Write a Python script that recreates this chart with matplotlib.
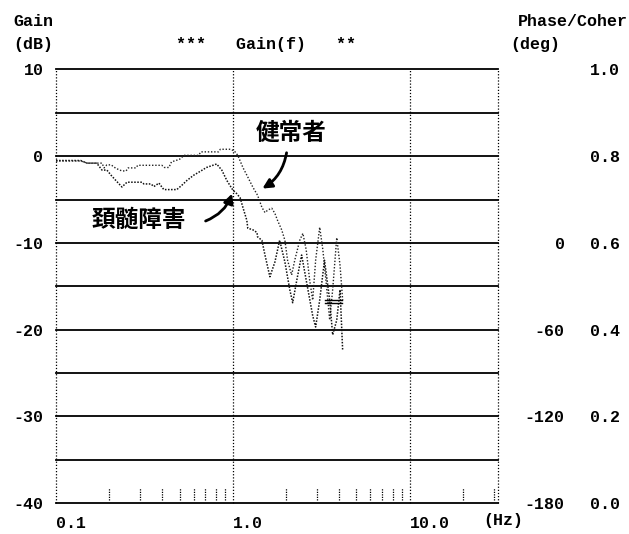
import matplotlib.pyplot as plt

# gain curves (frequency in Hz, gain in dB)
healthy_f = [0.100, 0.138, 0.150, 0.182, 0.187, 0.194, 0.205, 0.218, 0.236, 0.249,
             0.256, 0.283, 0.290, 0.397, 0.410, 0.435, 0.450, 0.476, 0.500, 0.530,
             0.640, 0.660, 0.830, 0.850, 0.970, 1.02, 1.067, 1.14, 1.215, 1.30,
             1.38, 1.46, 1.52, 1.58, 1.66, 1.73, 1.79, 1.89, 1.97, 2.04,
             2.15, 2.24, 2.39, 2.49, 2.60, 2.72, 2.83, 2.94, 3.10, 3.23,
             3.38, 3.53, 3.67, 3.87, 4.04, 4.18]
healthy_g = [-0.55, -0.55, -0.8, -0.8, -1.35, -1.0, -1.0, -1.4, -1.7, -1.7,
             -1.35, -1.35, -1.05, -1.05, -1.3, -1.3, -0.65, -0.5, -0.35, 0.1,
             0.1, 0.5, 0.5, 0.8, 0.8, 0.6, 0.1, -1.3, -2.4, -3.6,
             -4.5, -5.9, -6.5, -6.2, -6.0, -6.6, -7.4, -8.5, -9.7, -12.0,
             -13.7, -12.0, -9.7, -8.9, -10.8, -14.3, -16.6, -12.0, -8.2, -10.8,
             -14.8, -18.9, -15.4, -9.4, -12.6, -16.6]

patient_f = [0.100, 0.138, 0.150, 0.170, 0.182, 0.194, 0.205, 0.218, 0.236, 0.252,
             0.306, 0.314, 0.344, 0.358, 0.382, 0.407, 0.482, 0.515, 0.550, 0.600,
             0.660, 0.710, 0.810, 0.866, 0.925, 1.00, 1.05, 1.10, 1.14, 1.20,
             1.215, 1.30, 1.37, 1.38, 1.46, 1.52, 1.62, 1.73, 1.84, 1.97,
             2.10, 2.18, 2.30, 2.45, 2.60, 2.83, 2.94, 3.10, 3.30, 3.53,
             3.67, 3.87, 4.04, 4.18]
patient_g = [-0.5, -0.5, -0.8, -0.8, -1.6, -1.6, -2.2, -2.8, -3.55, -3.0,
             -3.0, -3.2, -3.2, -3.5, -3.1, -3.85, -3.85, -3.35, -2.8, -2.2,
             -1.7, -1.3, -0.9, -1.6, -2.8, -3.9, -4.3, -4.8, -5.9, -7.4,
             -8.3, -8.5, -8.8, -9.3, -9.7, -11.4, -13.9, -12.2, -9.7, -12.2,
             -15.4, -16.9, -14.3, -11.4, -14.3, -18.4, -19.7, -16.6, -12.0, -16.6,
             -20.6, -18.9, -15.4, -22.4]

flat_f = [3.30, 4.15]
flat_g1 = [-16.6, -16.6]
flat_g2 = [-16.95, -16.95]

gain_ticks = [10, 0, -10, -20, -30, -40]
gain_grid = [10, 5, 0, -5, -10, -15, -20, -25, -30, -35, -40]
phase_ticks = [0, -60, -120, -180]
coher_ticks = [0.0, 0.2, 0.4, 0.6, 0.8, 1.0]
freq_labels = ['0.1', '1.0', '10.0']
minor_f = [0.2, 0.3, 0.4, 0.5, 0.6, 0.7, 0.8, 0.9,
           2, 3, 4, 5, 6, 7, 8, 9, 20, 30]

W, H = 629, 534
mono = dict(family='Liberation Mono', weight='bold', fontsize=12)
jp = dict(family=['Noto Sans CJK JP', 'DejaVu Sans'], weight='bold', fontsize=17)


def fp(x, y):
    # figure fraction from pixel position (top-left origin)
    return x / W, 1 - y / H


fig = plt.figure(figsize=(W / 100, H / 100), dpi=100)
left, right, top, bottom = 56, 498, 69.5, 503
ax = fig.add_axes([left / W, 1 - bottom / H, (right - left) / W, (bottom - top) / H])

xmin, xmax = 0.1, 31.6
ax.set_xscale('log')
ax.set_xlim(xmin, xmax)
ax.set_ylim(-40, 10)
for s in ax.spines.values():
    s.set_visible(False)

for g in gain_grid:
    ax.axhline(g, color='black', lw=1.3, clip_on=False)
for x in [xmin, 1, 10, xmax]:
    ax.axvline(x, color='black', lw=0.9, ls=(0, (1, 1.5)), clip_on=False)
ax.vlines(minor_f, -39.7, -38.3, color='black', lw=0.9, ls=(0, (1, 1)))

ax.plot(healthy_f, healthy_g, color='#222222', lw=1.0, ls=(0, (1, 1.3)))
ax.plot(patient_f, patient_g, color='#111111', lw=1.1, ls=(0, (1, 1)))
ax.plot(flat_f, flat_g1, color='black', lw=1.0)
ax.plot(flat_f, flat_g2, color='black', lw=1.0)

ax.set_yticks(gain_ticks)
ax.set_yticklabels([str(v) for v in gain_ticks], **mono)
ax.tick_params(axis='y', length=0, pad=9)
ax.set_xticks([0.1, 1, 10])
ax.set_xticklabels(freq_labels, ha='left', **mono)
ax.xaxis.set_minor_locator(plt.NullLocator())
ax.tick_params(axis='x', length=0, pad=9)

# coherence axis: 0..1 over the gain range
ax2 = ax.twinx()
ax2.set_ylim(0, 1)
ax2.set_yticks(coher_ticks)
ax2.set_yticklabels(['%.1f' % v for v in coher_ticks], **mono)
ax2.tick_params(axis='y', length=0, pad=66)
# phase axis: 60 deg per 10 dB
ax3 = ax.twinx()
ax3.set_ylim(-180, 120)
ax3.set_yticks(phase_ticks)
ax3.set_yticklabels([str(v) for v in phase_ticks], ha='right', **mono)
ax3.tick_params(axis='y', length=0, pad=48)
for a in (ax2, ax3):
    for s in a.spines.values():
        s.set_visible(False)

fig.text(*fp(13, 22), 'Gain', va='center', **mono)
fig.text(*fp(13, 44), '(dB)', va='center', **mono)
fig.text(*fp(176, 44), '***   Gain(f)   **', va='center', **mono)
fig.text(*fp(628, 22), 'Phase/Coher', va='center', ha='right', **mono)
fig.text(*fp(510, 44), '(deg)', va='center', **mono)
fig.text(*fp(483, 521), '(Hz)', va='center', **mono)

fig.text(*fp(256, 133), '健常者', va='center', **jp)
fig.text(*fp(92, 220), '頚髄障害', va='center', **jp)

arrow = dict(arrowstyle='-|>', color='black', lw=2.0, mutation_scale=14)
ax.annotate('', xy=(260, H - 190), xytext=(287, H - 150), xycoords='figure pixels',
            textcoords='figure pixels',
            arrowprops=dict(connectionstyle='arc3,rad=-0.25', **arrow))
ax.annotate('', xy=(233, H - 191), xytext=(203, H - 222), xycoords='figure pixels',
            textcoords='figure pixels',
            arrowprops=dict(connectionstyle='arc3,rad=0.25', **arrow))

fig.savefig('out.png', dpi=100)
